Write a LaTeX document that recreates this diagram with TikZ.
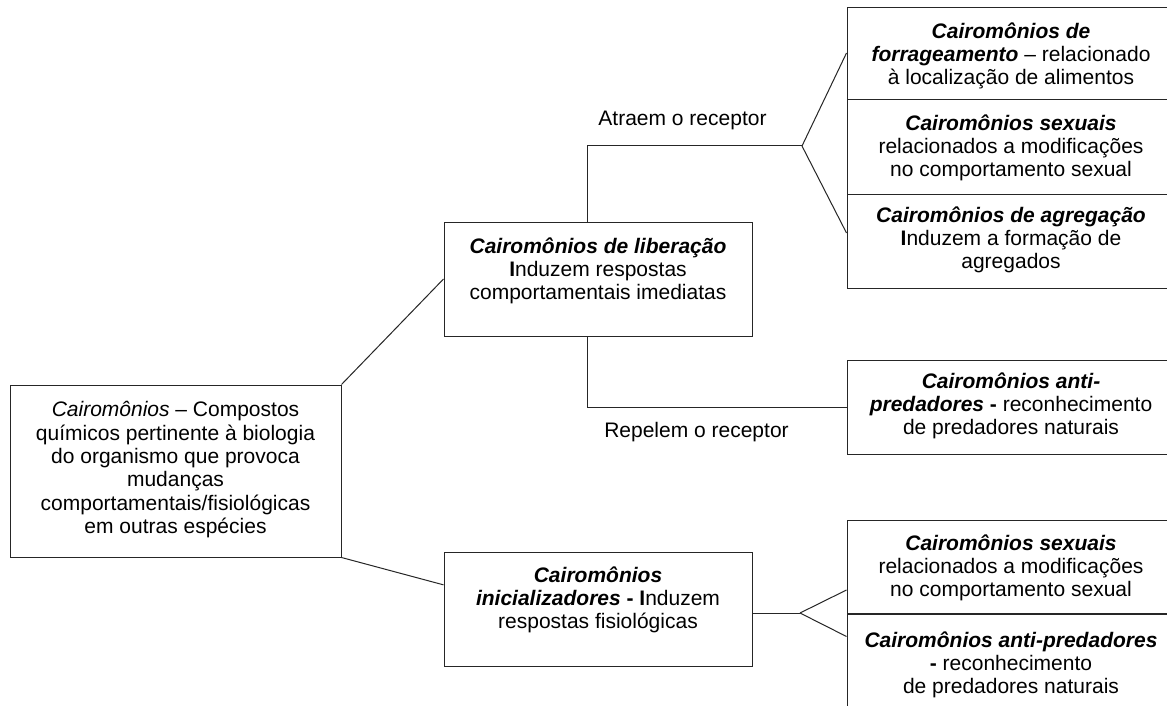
\documentclass[tikz,border=0pt]{standalone}
\usepackage{fontspec}
\setmainfont{Liberation Sans}
\usetikzlibrary{calc}
\newcommand{\bfit}[1]{\textbf{\textit{#1}}}
\tikzset{
  boxnode/.style={draw=black!85, line width=1pt, rectangle, inner sep=0pt, minimum width=#1},
  txtnode/.style={anchor=north, inner sep=0pt, align=center, font=\fontsize{21}{23.3}\selectfont},
  lblnode/.style={anchor=base, inner sep=0pt, font=\fontsize{21}{23.3}\selectfont},
  link/.style={draw=black!85, line width=1pt},
}
\begin{document}
\begin{tikzpicture}[x=1pt,y=-1pt]
\useasboundingbox (0,0) rectangle (1167,706);
\clip (0,0) rectangle (1167,706);
\fill[white] (0,0) rectangle (1167,706);

% boxes
\node[boxnode=331, minimum height=172] (root) at (175.5,471) {};
\node[boxnode=308, minimum height=114] (lib) at (598,279) {};
\node[boxnode=308, minimum height=114] (ini) at (598,609) {};
\node[boxnode=328, minimum height=92] (forr) at (1011,54) {};
\node[boxnode=328, minimum height=94] (sexa) at (1011,147) {};
\node[boxnode=328, minimum height=94] (agr) at (1011,241) {};
\node[boxnode=328, minimum height=94] (antia) at (1011,407) {};
\node[boxnode=328, minimum height=93] (sexb) at (1011,567) {};
\node[boxnode=328, minimum height=106] (antib) at (1011,667) {};

% texts
\node[txtnode] (troot) at (175.5,401.5) {\textit{Cairomônios} – Compostos\\ químicos pertinente à biologia\\ do organismo que provoca\\ mudanças\\ comportamentais/fisiológicas\\ em outras espécies};
\node[txtnode] (tlib) at (598,237.5) {\bfit{Cairomônios de liberação}\\ \textbf{I}nduzem respostas\\ comportamentais imediatas};
\node[txtnode] (tini) at (598,566.5) {\bfit{Cairomônios}\\ \bfit{inicializadores} \textbf{-} \textbf{I}nduzem\\ respostas fisiológicas};
\node[txtnode] (tforr) at (1011,22.5) {\bfit{Cairomônios de}\\ \bfit{forrageamento} – relacionado\\ à localização de alimentos};
\node[txtnode] (tsexa) at (1011,114.5) {\bfit{Cairomônios sexuais}\\ relacionados a modificações\\ no comportamento sexual};
\node[txtnode] (tagr) at (1011,206.5) {\bfit{Cairomônios de agregação}\\ \textbf{I}nduzem a formação de\\ agregados};
\node[txtnode] (tantia) at (1011,372.5) {\bfit{Cairomônios anti-}\\ \bfit{predadores} \textbf{-} reconhecimento\\ de predadores naturais};
\node[txtnode] (tsexb) at (1011,534.5) {\bfit{Cairomônios sexuais}\\ relacionados a modificações\\ no comportamento sexual};
\node[txtnode] (tantib) at (1011,631.5) {\bfit{Cairomônios anti-predadores}\\ \textbf{-} reconhecimento\\ de predadores naturais};

% labels
\node[lblnode] (atraem) at (682.5,125) {Atraem o receptor};
\node[lblnode] (repelem) at (696.5,437) {Repelem o receptor};

% connector points
\coordinate (forkA) at (802,146);
\coordinate (forkB) at (800,613);

% connectors
\draw[link] (root.north east) -- (lib.west);
\draw[link] (root.south east) -- ($(ini.north west)!0.29!(ini.south west)$);
\draw[link] ([xshift=-11pt]lib.north) |- (forkA);
\draw[link] (forkA) -- ([yshift=1pt]forr.west);
\draw[link] (forkA) -- ([yshift=8pt]agr.west);
\draw[link] ([xshift=-11pt]lib.south) |- (antia.west);
\draw[link] ([yshift=-4pt]ini.east) -- (forkB);
\draw[link] (forkB) -- ([yshift=-23pt]sexb.west);
\draw[link] (forkB) -- ($(antib.north west)+(0,23)$);
\end{tikzpicture}
\end{document}
